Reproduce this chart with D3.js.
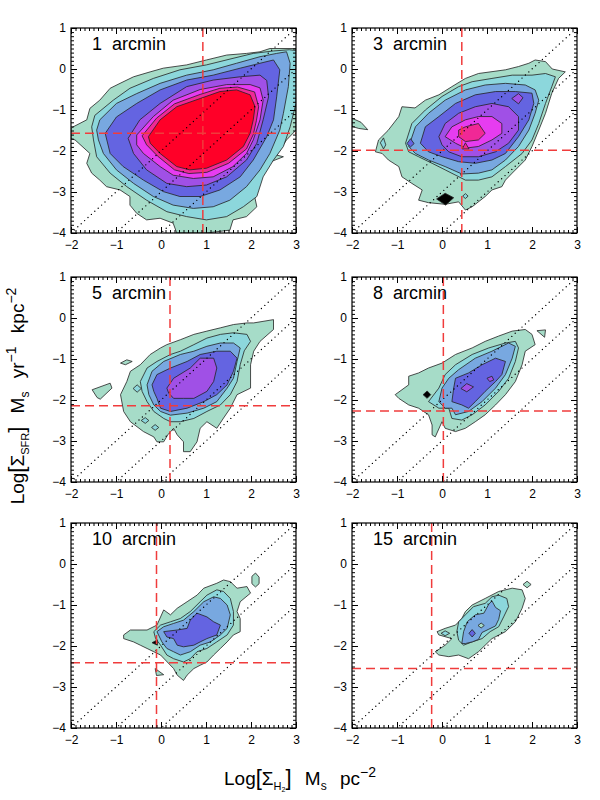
<!DOCTYPE html>
<html>
<head>
<meta charset="utf-8">
<script src="https://cdn.jsdelivr.net/npm/d3@7"></script>
<style>
  body { margin: 0; background: #fff; }
  text { font-family: "Liberation Sans", Helvetica, Arial, sans-serif; }
</style>
</head>
<body>
<div id="chart"></div>
<script>
// ---- values ----
var panelNames = ["1 arcmin", "3 arcmin", "5 arcmin", "8 arcmin", "10 arcmin", "15 arcmin"];
var h2Cut = [0.93, 0.44, 0.2, 0.03, -0.1, -0.23];       // red vertical dashes
var sfrCut = [-1.57, -1.98, -2.14, -2.27, -2.41, -2.55]; // red horizontal dashes
var xTicks = [-2, -1, 0, 1, 2, 3];
var yTicks = [1, 0, -1, -2, -3, -4];
var depletion = [2, 3, 4]; // dotted lines: log SFR = log H2 - k

// contour regions, outermost level first: [level, [[x, y], ...]]
// level 8 = black blobs
var contours1 = [
  [0, [[-2,-1.45],[-1.95,-1.41],[-1.65,-1.24],[-1.58,-0.96],[-1.36,-0.76],[-1.13,-0.47],[-0.91,-0.35],[-0.61,-0.19],[-0.24,-0.07],[0.05,0.02],[0.57,0.1],[1.01,0.22],[1.46,0.34],[1.9,0.38],[2.2,0.42],[2.42,0.5],[3,0.5],[3,-1.49],[2.79,-1.73],[2.57,-2.1],[2.72,-2.14],[2.35,-2.3],[2.2,-2.63],[2.05,-2.95],[2.13,-3.36],[1.9,-3.6],[1.6,-3.68],[1.53,-3.93],[1.01,-4],[0.35,-4],[0.27,-3.76],[-0.02,-3.64],[-0.32,-3.68],[-0.54,-3.52],[-0.69,-3.32],[-0.69,-3.11],[-0.91,-2.95],[-1.21,-2.87],[-1.36,-2.71],[-1.54,-2.54],[-1.65,-2.3],[-1.58,-2.06],[-1.91,-1.73],[-2,-1.7]]],
  [1, [[-1.54,-1.41],[-1.47,-1.13],[-1.06,-0.76],[-0.69,-0.47],[-0.17,-0.23],[0.42,-0.02],[1.01,0.1],[1.6,0.26],[2.05,0.38],[2.5,0.44],[2.85,0.47],[3,0.45],[3,-0.84],[2.87,-1.41],[2.72,-1.89],[2.5,-2.22],[2.27,-2.63],[2.13,-3.11],[1.83,-3.36],[1.46,-3.6],[1.01,-3.68],[0.57,-3.6],[0.13,-3.48],[-0.32,-3.2],[-0.76,-2.87],[-1.13,-2.54],[-1.43,-2.14],[-1.5,-1.73]]],
  [2, [[-1.43,-1.49],[-1.36,-1.24],[-0.99,-0.84],[-0.54,-0.6],[-0.02,-0.35],[0.57,-0.15],[1.16,-0.02],[1.68,0.14],[2.2,0.3],[2.57,0.38],[2.79,0.42],[2.87,0.14],[2.83,-0.43],[2.72,-1.08],[2.64,-1.49],[2.42,-2.06],[2.2,-2.46],[1.9,-2.87],[1.53,-3.2],[1.16,-3.36],[0.72,-3.4],[0.27,-3.32],[-0.17,-3.11],[-0.61,-2.79],[-0.99,-2.46],[-1.28,-2.06],[-1.39,-1.73]]],
  [3, [[-1.24,-1.57],[-0.99,-1.17],[-0.54,-0.84],[-0.02,-0.51],[0.57,-0.27],[1.16,-0.15],[1.76,0.02],[2.2,0.14],[2.5,0.22],[2.64,-0.02],[2.57,-0.68],[2.5,-1.24],[2.35,-1.65],[2.05,-2.22],[1.76,-2.63],[1.31,-2.95],[0.87,-3.11],[0.42,-3.11],[0.05,-2.99],[-0.39,-2.71],[-0.84,-2.38],[-1.13,-2.06]]],
  [4, [[-0.73,-1.69],[-0.47,-1.24],[-0.02,-0.84],[0.57,-0.43],[1.16,-0.27],[1.76,-0.19],[2.2,-0.15],[2.35,-0.28],[2.39,-0.68],[2.27,-1.24],[2.13,-1.81],[1.9,-2.22],[1.46,-2.63],[1.01,-2.83],[0.57,-2.87],[0.13,-2.79],[-0.32,-2.46],[-0.61,-2.06]]],
  [5, [[-0.54,-1.61],[-0.17,-1.16],[0.27,-0.76],[0.87,-0.5],[1.46,-0.38],[1.98,-0.38],[2.2,-0.46],[2.27,-0.76],[2.2,-1.24],[2.05,-1.73],[1.9,-2.06],[1.6,-2.38],[1.16,-2.63],[0.72,-2.67],[0.27,-2.59],[-0.02,-2.38],[-0.39,-2.06],[-0.54,-1.85]]],
  [6, [[-0.42,-1.63],[-0.1,-1.2],[0.3,-0.85],[0.87,-0.62],[1.31,-0.47],[1.7,-0.44],[2.08,-0.56],[2.17,-0.92],[2.12,-1.26],[2.05,-1.6],[1.9,-1.95],[1.5,-2.3],[1.02,-2.52],[0.62,-2.55],[0.3,-2.46],[-0.08,-2.12],[-0.32,-1.85]]],
  [7, [[-0.28,-1.65],[-0.02,-1.24],[0.35,-0.92],[0.87,-0.72],[1.31,-0.55],[1.68,-0.51],[1.98,-0.63],[2.09,-0.92],[2.05,-1.24],[1.98,-1.57],[1.83,-1.89],[1.46,-2.22],[1.01,-2.42],[0.64,-2.46],[0.35,-2.38],[-0.02,-2.06],[-0.24,-1.81]]]
];
var contours3 = [
  [0, [[2.07,0.22],[2.3,0.18],[2.45,0.0],[2.74,-0.07],[2.59,-0.23],[2.44,-0.59],[2.3,-1.08],[2.15,-1.49],[2.0,-1.89],[1.85,-2.22],[1.56,-2.54],[1.41,-2.71],[1.33,-2.87],[1.11,-2.95],[0.96,-3.11],[0.67,-3.36],[0.52,-3.44],[0.37,-3.24],[0.07,-3.3],[-0.3,-3.26],[-0.52,-3.2],[-0.44,-2.95],[-0.67,-2.79],[-0.89,-2.63],[-0.96,-2.38],[-1.19,-2.22],[-1.33,-2.06],[-1.48,-2.02],[-1.41,-1.73],[-1.2,-1.5],[-0.96,-1.16],[-0.89,-0.92],[-0.6,-0.95],[-0.37,-0.76],[-0.07,-0.63],[0.22,-0.43],[0.52,-0.23],[0.81,-0.11],[1.41,-0.02],[1.7,0.06],[1.93,0.14]]],
  [0, [[-2,-1.2],[-1.8,-1.3],[-1.65,-1.48],[-1.85,-1.45],[-2,-1.4]]],
  [1, [[-0.81,-1.81],[-0.67,-1.33],[-0.37,-1.0],[0.0,-0.67],[0.37,-0.43],[0.67,-0.31],[1.11,-0.23],[1.56,-0.15],[2.0,-0.15],[2.3,-0.11],[2.52,-0.19],[2.44,-0.43],[2.3,-0.84],[2.15,-1.33],[2.0,-1.73],[1.78,-2.06],[1.41,-2.38],[1.11,-2.63],[0.81,-2.71],[0.52,-2.71],[0.07,-2.46],[-0.22,-2.3],[-0.52,-2.14],[-0.74,-2.02]]],
  [1, [[-1.37,-1.8],[-1.3,-1.68],[-1.25,-1.85],[-1.3,-1.95]]],
  [1, [[0.46,-3.1],[0.52,-3.04],[0.58,-3.1],[0.52,-3.16]]],
  [2, [[-0.74,-1.89],[-0.59,-1.41],[-0.3,-1.08],[0.07,-0.76],[0.52,-0.51],[0.96,-0.39],[1.41,-0.35],[1.85,-0.39],[2.07,-0.51],[2.15,-0.76],[2.07,-1.08],[1.93,-1.49],[1.7,-1.89],[1.41,-2.22],[1.11,-2.46],[0.81,-2.54],[0.44,-2.56],[0.07,-2.38],[-0.3,-2.22],[-0.59,-2.06]]],
  [3, [[-0.48,-1.81],[-0.37,-1.41],[-0.07,-1.16],[0.3,-0.84],[0.74,-0.63],[1.19,-0.55],[1.63,-0.55],[2.0,-0.59],[2.04,-0.84],[1.93,-1.24],[1.7,-1.65],[1.41,-2.06],[1.11,-2.22],[0.74,-2.3],[0.37,-2.26],[0.0,-2.14],[-0.3,-2.02]]],
  [3, [[-0.78,-1.82],[-0.7,-1.7],[-0.62,-1.82],[-0.7,-1.9]]],
  [4, [[-0.07,-1.65],[0.07,-1.33],[0.37,-1.08],[0.74,-0.92],[1.11,-0.84],[1.48,-0.92],[1.7,-1.16],[1.7,-1.49],[1.48,-1.81],[1.19,-2.02],[0.81,-2.14],[0.44,-2.14],[0.15,-2.02],[0.0,-1.85]]],
  [4, [[1.55,-0.72],[1.7,-0.6],[1.8,-0.7],[1.7,-0.85]]],
  [5, [[0.07,-1.65],[0.22,-1.41],[0.52,-1.24],[0.81,-1.16],[1.11,-1.16],[1.33,-1.33],[1.33,-1.57],[1.11,-1.73],[0.81,-1.89],[0.52,-1.93],[0.3,-1.81]]],
  [6, [[0.37,-1.49],[0.52,-1.41],[0.81,-1.33],[0.96,-1.57],[0.81,-1.73],[0.52,-1.77],[0.37,-1.65]]],
  [6, [[0.45,-1.95],[0.52,-1.8],[0.6,-1.95]]],
  [8, [[-0.12,-3.17],[0.07,-3.03],[0.26,-3.14],[0.08,-3.32]]]
];
var contours5 = [
  [0, [[2.06,-0.12],[2.5,-0.04],[2.5,-0.28],[2.2,-0.57],[2.06,-0.81],[1.99,-1.14],[1.99,-1.71],[1.69,-1.87],[1.54,-2.2],[1.39,-2.44],[1.24,-2.69],[1.02,-2.53],[0.87,-2.69],[0.8,-3.02],[0.65,-3.26],[0.5,-3.26],[0.5,-3.02],[0.36,-2.85],[0.28,-2.69],[0.15,-2.85],[0.06,-3.02],[-0.09,-3.02],[-0.16,-2.9],[-0.39,-2.77],[-0.68,-2.53],[-0.83,-2.28],[-0.9,-1.87],[-0.76,-1.55],[-0.68,-1.3],[-0.46,-1.14],[-0.24,-0.89],[-0.01,-0.73],[0.13,-0.65],[0.43,-0.53],[0.73,-0.4],[1.02,-0.32],[1.32,-0.24],[1.61,-0.16],[1.91,-0.12]]],
  [0, [[-1.53,-1.75],[-1.13,-1.59],[-1.09,-1.71],[-1.35,-1.98],[-1.42,-1.94]]],
  [0, [[-0.9,-1.1],[-0.76,-1.02],[-0.64,-1.06],[-0.79,-1.14]]],
  [1, [[-0.46,-1.55],[-0.31,-1.22],[-0.09,-1.06],[0.21,-0.89],[0.43,-0.81],[0.73,-0.65],[1.02,-0.49],[1.32,-0.4],[1.61,-0.36],[1.91,-0.4],[1.99,-0.57],[1.85,-0.8],[1.76,-1.14],[1.69,-1.55],[1.54,-1.87],[1.32,-2.12],[1.02,-2.28],[0.73,-2.45],[0.43,-2.53],[0.21,-2.53],[0.06,-2.45],[-0.16,-2.28],[-0.31,-2.04],[-0.42,-1.79]]],
  [1, [[-0.62,-1.72],[-0.53,-1.63],[-0.44,-1.72],[-0.53,-1.81]]],
  [1, [[-0.44,-2.5],[-0.35,-2.43],[-0.27,-2.5],[-0.35,-2.57]]],
  [1, [[-0.21,-2.67],[-0.13,-2.6],[-0.05,-2.67],[-0.13,-2.74]]],
  [2, [[-0.31,-1.63],[-0.2,-1.3],[0.06,-1.06],[0.43,-0.89],[0.73,-0.81],[1.02,-0.69],[1.32,-0.61],[1.61,-0.61],[1.76,-0.73],[1.69,-1.06],[1.61,-1.47],[1.47,-1.71],[1.24,-2.04],[0.95,-2.2],[0.58,-2.32],[0.21,-2.37],[-0.01,-2.28],[-0.16,-2.12],[-0.27,-1.87]]],
  [3, [[-0.2,-1.63],[-0.09,-1.38],[0.21,-1.22],[0.58,-1.06],[0.87,-0.89],[1.24,-0.81],[1.54,-0.81],[1.69,-0.98],[1.61,-1.3],[1.47,-1.63],[1.24,-1.87],[0.95,-2.04],[0.58,-2.2],[0.21,-2.28],[-0.01,-2.2],[-0.09,-1.96],[-0.16,-1.79]]],
  [4, [[0.13,-1.71],[0.28,-1.47],[0.65,-1.22],[0.87,-0.98],[1.17,-0.98],[1.24,-1.22],[1.17,-1.55],[1.02,-1.79],[0.73,-1.96],[0.5,-1.96],[0.28,-1.96],[0.17,-1.83]]]
];
var contours8 = [
  [0, [[-1.04,-1.87],[-0.74,-1.63],[-0.74,-1.42],[-0.52,-1.34],[-0.3,-1.22],[0.0,-1.1],[0.3,-0.89],[0.67,-0.73],[0.96,-0.57],[1.26,-0.44],[1.56,-0.32],[1.85,-0.28],[2.0,-0.4],[2.07,-0.65],[1.85,-0.81],[1.78,-1.14],[1.63,-1.55],[1.41,-1.87],[1.19,-2.12],[0.96,-2.36],[0.74,-2.53],[0.52,-2.69],[0.3,-2.77],[0.07,-2.69],[0.0,-2.53],[-0.15,-2.9],[-0.22,-2.85],[-0.22,-2.61],[-0.3,-2.36],[-0.52,-2.2],[-0.74,-2.12],[-0.96,-1.96]]],
  [0, [[2.11,-0.31],[2.3,-0.29],[2.28,-0.47]]],
  [1, [[-0.3,-2.04],[-0.07,-1.71],[0.07,-1.38],[0.3,-1.14],[0.67,-0.89],[1.04,-0.73],[1.41,-0.61],[1.63,-0.57],[1.7,-0.73],[1.63,-1.06],[1.48,-1.47],[1.26,-1.79],[0.96,-2.12],[0.67,-2.36],[0.44,-2.49],[0.22,-2.45],[0.15,-2.2],[-0.07,-2.2]]],
  [2, [[-0.07,-2.04],[0.0,-1.71],[0.15,-1.47],[0.37,-1.26],[0.74,-0.98],[1.11,-0.81],[1.48,-0.61],[1.63,-0.69],[1.56,-0.98],[1.41,-1.38],[1.19,-1.71],[0.89,-2.04],[0.59,-2.28],[0.3,-2.36],[0.22,-2.2],[0.07,-2.2]]],
  [3, [[0.22,-2.04],[0.26,-1.71],[0.3,-1.47],[0.59,-1.34],[0.89,-1.14],[1.19,-0.98],[1.41,-1.06],[1.33,-1.38],[1.19,-1.55],[0.96,-1.79],[0.74,-2.04],[0.59,-2.2],[0.44,-2.12]]],
  [4, [[0.42,-1.72],[0.55,-1.6],[0.7,-1.68],[0.55,-1.8]]],
  [4, [[1.0,-1.47],[1.11,-1.42],[1.15,-1.51],[1.06,-1.55]]],
  [8, [[-0.42,-1.87],[-0.33,-1.78],[-0.25,-1.87],[-0.33,-1.96]]]
];
var contours10 = [
  [0, [[-0.83,-1.73],[-0.68,-1.61],[-0.31,-1.61],[-0.09,-1.49],[0.06,-1.12],[0.21,-1.24],[0.36,-1.08],[0.58,-0.92],[0.8,-0.76],[0.95,-0.59],[1.24,-0.47],[1.39,-0.39],[1.54,-0.43],[1.69,-0.59],[1.91,-0.55],[1.99,-0.71],[1.76,-0.92],[1.69,-1.16],[1.76,-1.33],[1.76,-1.65],[1.61,-1.73],[1.47,-1.9],[1.32,-2.06],[1.17,-2.22],[1.02,-2.39],[0.87,-2.47],[0.73,-2.55],[0.58,-2.71],[0.5,-2.84],[0.36,-2.71],[0.28,-2.55],[-0.01,-2.22],[-0.16,-2.14],[-0.31,-2.06],[-0.46,-1.98],[-0.61,-1.9],[-0.83,-1.82]]],
  [0, [[2.02,-0.3],[2.1,-0.22],[2.18,-0.32],[2.18,-0.48],[2.1,-0.56],[2.02,-0.48]]],
  [0, [[-0.13,-2.55],[0.06,-2.7],[-0.1,-2.72]]],
  [1, [[-0.16,-1.65],[-0.01,-1.49],[0.21,-1.41],[0.43,-1.33],[0.65,-1.16],[0.87,-0.92],[1.02,-0.76],[1.24,-0.63],[1.39,-0.67],[1.54,-0.84],[1.61,-1.16],[1.61,-1.49],[1.47,-1.73],[1.24,-1.9],[1.02,-2.06],[0.8,-2.14],[0.65,-2.31],[0.5,-2.39],[0.28,-2.31],[0.13,-2.22],[-0.01,-1.98],[-0.12,-1.82]]],
  [2, [[-0.09,-1.65],[0.06,-1.53],[0.28,-1.45],[0.5,-1.37],[0.73,-1.16],[0.95,-0.92],[1.17,-0.8],[1.32,-0.84],[1.47,-1.0],[1.54,-1.24],[1.47,-1.57],[1.32,-1.73],[1.1,-1.9],[0.87,-1.98],[0.65,-2.14],[0.43,-2.22],[0.28,-2.14],[0.13,-2.06],[0.02,-1.9]]],
  [3, [[0.06,-1.65],[0.36,-1.61],[0.58,-1.57],[0.65,-1.37],[0.8,-1.2],[1.02,-1.29],[1.17,-1.41],[1.32,-1.49],[1.24,-1.73],[1.02,-1.82],[0.87,-1.9],[0.73,-1.98],[0.5,-2.02],[0.36,-1.98],[0.28,-1.82],[0.13,-1.78]]],
  [8, [[-0.2,-1.92],[-0.08,-1.85],[-0.08,-1.98]]]
];
var contours15 = [
  [0, [[-0.15,-2.14],[0.07,-1.98],[0.22,-1.82],[-0.07,-1.73],[-0.11,-1.65],[0.07,-1.57],[0.3,-1.49],[0.44,-1.33],[0.52,-1.16],[0.67,-1.0],[0.96,-0.84],[1.26,-0.67],[1.56,-0.59],[1.78,-0.63],[1.85,-0.84],[1.78,-1.08],[1.63,-1.41],[1.41,-1.65],[1.11,-1.82],[0.96,-1.98],[0.81,-2.14],[0.59,-2.31],[0.37,-2.22],[0.15,-2.26],[-0.07,-2.22]]],
  [0, [[1.8,-0.5],[1.89,-0.42],[1.98,-0.5],[1.89,-0.58]]],
  [1, [[0.33,-1.65],[0.37,-1.41],[0.52,-1.24],[0.7,-1.04],[0.96,-0.96],[1.11,-0.8],[1.26,-0.76],[1.44,-0.84],[1.48,-1.04],[1.37,-1.29],[1.26,-1.53],[1.07,-1.65],[0.89,-1.82],[0.67,-1.9],[0.48,-1.98],[0.37,-1.86]]],
  [1, [[-0.02,-1.69],[0.07,-1.63],[0.17,-1.69],[0.07,-1.75]]],
  [2, [[0.44,-1.94],[0.48,-1.65],[0.56,-1.41],[0.74,-1.24],[0.93,-1.2],[1.04,-0.98],[1.11,-0.9],[1.19,-1.06],[1.3,-1.14],[1.26,-1.35],[1.19,-1.51],[1.04,-1.59],[0.89,-1.67],[0.81,-1.84],[0.67,-1.9],[0.52,-1.94]]],
  [0, [[0.8,-1.5],[0.87,-1.44],[0.94,-1.5],[0.87,-1.56]]],
  [3, [[0.6,-1.69],[0.67,-1.6],[0.74,-1.69],[0.67,-1.78]]]
];

// fill colours of the contour levels (outer -> inner), then black
var levelColors = ["#a6dcc8", "#8cd7dc", "#78a8e0", "#6464e1", "#a050e6", "#e63cf0", "#f02896", "#ff0028", "#000000"];

// ---- layout ----
var W = 600, H = 800, pw = 225, ph = 205;
var colX = [71, 352], rowY = [28, 277, 523];

var x = d3.scaleLinear().domain([-2, 3]).range([0, pw]);
var y = d3.scaleLinear().domain([-4, 1]).range([ph, 0]);
var line = d3.line().x(function (d) { return x(d[0]); }).y(function (d) { return y(d[1]); });

var svg = d3.select("#chart").append("svg")
  .attr("width", W).attr("height", H);

var allContours = [contours1, contours3, contours5, contours8, contours10, contours15];
var minorX = d3.range(-20, 31).map(function (v) { return v / 10; });
var minorY = d3.range(-40, 11).map(function (v) { return v / 10; });

function noDomain(g) { g.select(".domain").remove(); }

allContours.forEach(function (cs, i) {
  var g = svg.append("g")
    .attr("transform", "translate(" + colX[i % 2] + "," + rowY[Math.floor(i / 2)] + ")");

  g.append("clipPath").attr("id", "clip" + i)
    .append("rect").attr("width", pw).attr("height", ph);
  var inner = g.append("g").attr("clip-path", "url(#clip" + i + ")");

  // filled contours
  inner.selectAll("path.lev").data(cs).enter().append("path")
    .attr("class", "lev")
    .attr("d", function (d) { return line(d[1]) + "Z"; })
    .attr("fill", function (d) { return levelColors[d[0]]; })
    .attr("stroke", "#222")
    .attr("stroke-width", 0.8)
    .attr("stroke-linejoin", "round");

  // constant depletion time lines
  inner.selectAll("line.dep").data(depletion).enter().append("line")
    .attr("x1", x(-2)).attr("y1", function (k) { return y(-2 - k); })
    .attr("x2", x(3)).attr("y2", function (k) { return y(3 - k); })
    .attr("stroke", "#000")
    .attr("stroke-width", 1.4)
    .attr("stroke-linecap", "round")
    .attr("stroke-dasharray", "0,4.6");

  // red threshold lines
  inner.append("line")
    .attr("x1", x(h2Cut[i])).attr("x2", x(h2Cut[i]))
    .attr("y1", 0).attr("y2", ph)
    .attr("stroke", "#f03c3c").attr("stroke-width", 1.5)
    .attr("stroke-dasharray", "9,5");
  inner.append("line")
    .attr("x1", 0).attr("x2", pw)
    .attr("y1", y(sfrCut[i])).attr("y2", y(sfrCut[i]))
    .attr("stroke", "#f03c3c").attr("stroke-width", 1.5)
    .attr("stroke-dasharray", "9,5");

  // minor ticks on all four sides
  g.append("g").attr("transform", "translate(0," + ph + ")")
    .call(d3.axisBottom(x).tickValues(minorX).tickSize(-3).tickFormat("")).call(noDomain);
  g.append("g")
    .call(d3.axisTop(x).tickValues(minorX).tickSize(-3).tickFormat("")).call(noDomain);
  g.append("g")
    .call(d3.axisLeft(y).tickValues(minorY).tickSize(-3).tickFormat("")).call(noDomain);
  g.append("g").attr("transform", "translate(" + pw + ",0)")
    .call(d3.axisRight(y).tickValues(minorY).tickSize(-3).tickFormat("")).call(noDomain);

  // major ticks + labels
  g.append("g").attr("transform", "translate(0," + ph + ")")
    .call(d3.axisBottom(x).tickValues(xTicks).tickSize(-6).tickPadding(7).tickFormat(d3.format("d")))
    .call(noDomain)
    .attr("font-family", null).attr("font-size", 12);
  g.append("g")
    .call(d3.axisTop(x).tickValues(xTicks).tickSize(-6).tickFormat("")).call(noDomain);
  g.append("g")
    .call(d3.axisLeft(y).tickValues(yTicks).tickSize(-6).tickPadding(5).tickFormat(d3.format("d")))
    .call(noDomain)
    .attr("font-family", null).attr("font-size", 12);
  g.append("g").attr("transform", "translate(" + pw + ",0)")
    .call(d3.axisRight(y).tickValues(yTicks).tickSize(-6).tickFormat("")).call(noDomain);

  g.selectAll(".tick line").attr("stroke", "#000");

  // frame
  g.append("rect").attr("width", pw).attr("height", ph)
    .attr("fill", "none").attr("stroke", "#000").attr("stroke-width", 1.2);

  // panel label
  g.append("text")
    .attr("x", 21).attr("y", 22)
    .attr("font-size", 18)
    .attr("word-spacing", 5)
    .text(panelNames[i]);
});

// axis titles
var xt = svg.append("text")
  .attr("x", 300).attr("y", 785)
  .attr("text-anchor", "middle")
  .attr("font-size", 19)
  .attr("word-spacing", 8);
xt.append("tspan").text("Log");
xt.append("tspan").attr("font-size", 22).text("[");
xt.append("tspan").text("\u03a3");
xt.append("tspan").attr("font-size", 11).attr("baseline-shift", -5).text("H");
xt.append("tspan").attr("font-size", 7).attr("baseline-shift", -7).text("2");
xt.append("tspan").attr("font-size", 22).text("]");
xt.append("tspan").text(" M");
xt.append("tspan").attr("font-size", 12).attr("baseline-shift", -5).text("s");
xt.append("tspan").text(" pc");
xt.append("tspan").attr("font-size", 14).attr("baseline-shift", 8).text("\u22122");

var yt = svg.append("text")
  .attr("transform", "translate(24,396) rotate(-90)")
  .attr("text-anchor", "middle")
  .attr("font-size", 19)
  .attr("word-spacing", 8);
yt.append("tspan").text("Log");
yt.append("tspan").attr("font-size", 22).text("[");
yt.append("tspan").text("\u03a3");
yt.append("tspan").attr("font-size", 11).attr("baseline-shift", -5).text("SFR");
yt.append("tspan").attr("font-size", 22).text("]");
yt.append("tspan").text(" M");
yt.append("tspan").attr("font-size", 12).attr("baseline-shift", -5).text("s");
yt.append("tspan").text(" yr");
yt.append("tspan").attr("font-size", 14).attr("baseline-shift", 8).text("\u22121");
yt.append("tspan").text(" kpc");
yt.append("tspan").attr("font-size", 14).attr("baseline-shift", 8).text("\u22122");
</script>
</body>
</html>
